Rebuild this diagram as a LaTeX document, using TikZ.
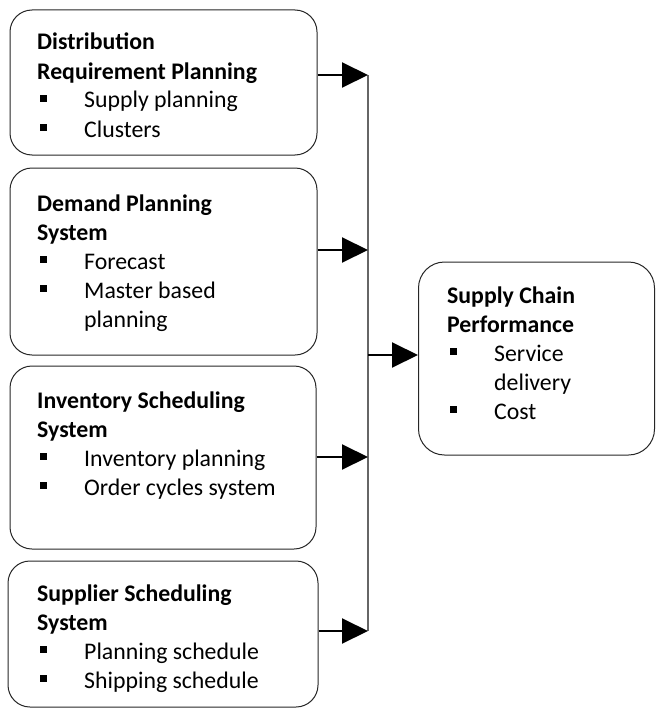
\documentclass[tikz,border=0pt]{standalone}
\usepackage{fontspec}
\setmainfont{Carlito}
\usetikzlibrary{arrows.meta}

\newcommand{\bul}{\hspace*{3pt}\raisebox{6pt}{\rule{7pt}{7pt}}\hspace*{37pt}}
\newcommand{\cont}{\hspace*{47pt}}

\begin{document}
\begin{tikzpicture}[x=1pt,y=-1pt,
  box/.style={draw=black!85,line width=1pt,rounded corners=22pt,inner sep=0pt},
  txt/.style={anchor=base west,inner sep=0pt,font=\fontsize{23.8}{29}\selectfont},
  arr/.style={line width=2pt,-{Triangle[length=26pt,width=25pt]}}]
\useasboundingbox (0,0) rectangle (656,709);
% boxes
\node[box,minimum width=307pt,minimum height=145pt] (drp) at (163.5,82.5) {};
\node[box,minimum width=307pt,minimum height=187pt] (dps) at (163.5,261.5) {};
\node[box,minimum width=306pt,minimum height=183pt] (iss) at (163,457.5) {};
\node[box,minimum width=310pt,minimum height=146pt] (sss) at (163,634) {};
\node[box,minimum width=236pt,minimum height=193pt,rounded corners=26pt] (scp) at (536.5,358.5) {};
% texts
\node[txt] (drptxt) at (37,50) {\parbox[t]{280pt}{\textbf{Distribution}\\
  \textbf{Requirement Planning}\\ \bul Supply planning\\ \bul Clusters}};
\node[txt] (dpstxt) at (37,211) {\parbox[t]{280pt}{\textbf{Demand Planning}\\
  \textbf{System}\\ \bul Forecast\\ \bul Master based\\ \cont planning}};
\node[txt] (isstxt) at (37,408) {\parbox[t]{280pt}{\textbf{Inventory Scheduling}\\
  \textbf{System}\\ \bul Inventory planning\\ \bul Order cycles system}};
\node[txt] (ssstxt) at (37,601) {\parbox[t]{280pt}{\textbf{Supplier Scheduling}\\
  \textbf{System}\\ \bul Planning schedule\\ \bul Shipping schedule}};
\node[txt] (scptxt) at (447,303) {\parbox[t]{200pt}{\textbf{Supply Chain}\\
  \textbf{Performance}\\ \bul Service\\ \cont delivery\\ \bul Cost}};
% bus line
\coordinate (j1) at (368,75);
\coordinate (j2) at (368,250);
\coordinate (j3) at (368,457);
\coordinate (j4) at (368,631);
\coordinate (jm) at (368,355);
\draw[black!60,line width=1.3pt] (j1) -- (j4);
% arrows
\draw[arr] (drp.east |- j1) -- (j1);
\draw[arr] (dps.east |- j2) -- (j2);
\draw[arr] (iss.east |- j3) -- (j3);
\draw[arr] (sss.east |- j4) -- (j4);
\draw[arr] (jm) -- (jm -| scp.west);
\end{tikzpicture}
\end{document}
